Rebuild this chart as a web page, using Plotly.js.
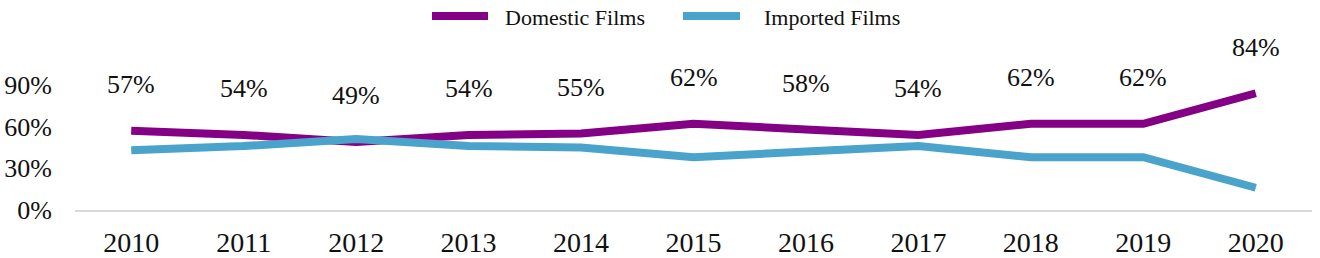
<!DOCTYPE html>
<html>
<head>
<meta charset="utf-8">
<script src="https://cdn.plot.ly/plotly-3.0.1.min.js"></script>
<style>html,body{margin:0;padding:0;background:#fff;}#chart{width:1320px;height:258px;}</style>
</head>
<body>
<div id="chart"></div>
<script>
const years = ["2010","2011","2012","2013","2014","2015","2016","2017","2018","2019","2020"];
const domestic = [57,54,49,54,55,62,58,54,62,62,84];
const imported = [43,46,51,46,45,38,42,46,38,38,16];
const seriesNames = ["Domestic Films", "Imported Films"];
const seriesColors = ["#840084", "#4AA3CB"];
const yTickVals = [0,30,60,90];
const yTickText = ["0%","30%","60%","90%"];

const FONT = "Liberation Serif, Times New Roman, serif";
const W = 1320, H = 258, M = {l: 75, r: 8, t: 71, b: 48};
const pw = W - M.l - M.r, ph = H - M.t - M.b;
const px2x = p => (p - M.l) / pw;
const px2y = p => 1 - (p - M.t) / ph;

const traces = [
  {x: years, y: domestic, name: seriesNames[0], type: "scatter", mode: "lines",
   line: {color: seriesColors[0], width: 8}, showlegend: false},
  {x: years, y: imported, name: seriesNames[1], type: "scatter", mode: "lines",
   line: {color: seriesColors[1], width: 8}, showlegend: false}
];

const annotations = years.map((yr, i) => ({
  x: i, y: domestic[i], xref: "x", yref: "y",
  text: domestic[i] + "%", showarrow: false, yshift: 46, yanchor: "middle",
  font: {family: FONT, size: 26, color: "#111"}
}));

// legend (custom, positioned in paper coords)
const legendItems = [
  {x0: 432, x1: 488, tx: 503},
  {x0: 683, x1: 740, tx: 762}
];
const shapes = [];
legendItems.forEach((it, k) => {
  shapes.push({type: "line", xref: "paper", yref: "paper",
    x0: px2x(it.x0), x1: px2x(it.x1), y0: px2y(16), y1: px2y(16),
    line: {color: seriesColors[k], width: 8}});
  annotations.push({xref: "paper", yref: "paper", x: px2x(it.tx), y: px2y(18),
    xanchor: "left", yanchor: "middle", showarrow: false, text: seriesNames[k],
    font: {family: FONT, size: 22, color: "#111"}});
});

const layout = {
  width: W, height: H,
  margin: M,
  paper_bgcolor: "#fff", plot_bgcolor: "#fff",
  showlegend: false,
  xaxis: {type: "category", range: [-0.5, 10.5], showgrid: false, zeroline: false,
          showline: true, linecolor: "#d9d9d9", linewidth: 2, ticks: "",
          ticklabelstandoff: 6,
          tickfont: {family: FONT, size: 28, color: "#111"}},
  yaxis: {range: [0, 100], showgrid: false, zeroline: false, showline: false,
          tickvals: yTickVals, ticktext: yTickText, ticks: "", ticklabelstandoff: 22,
          tickfont: {family: FONT, size: 26, color: "#111"}},
  annotations: annotations,
  shapes: shapes
};

Plotly.newPlot("chart", traces, layout, {displayModeBar: false, staticPlot: true});
</script>
</body>
</html>
